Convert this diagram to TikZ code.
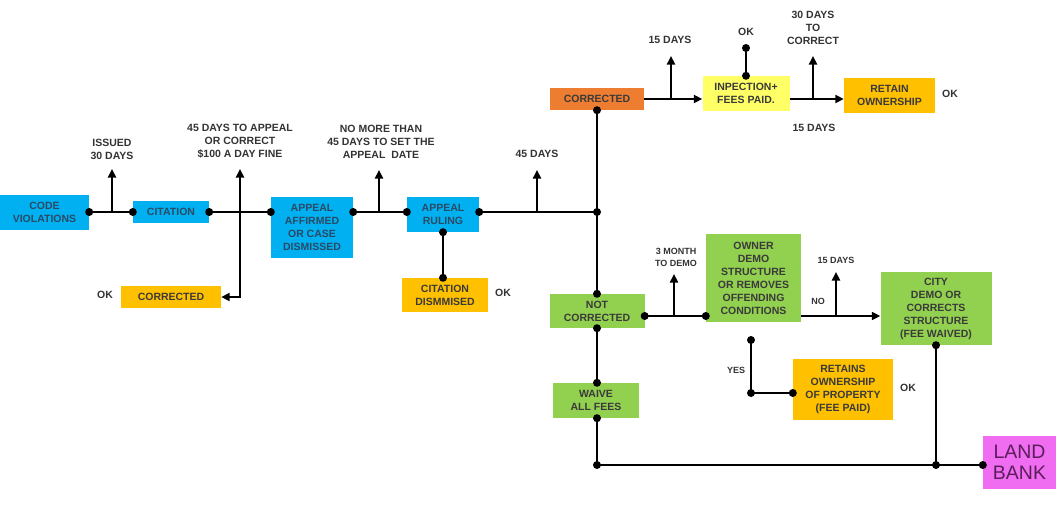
\documentclass[tikz,border=0pt]{standalone}
\usepackage{fontspec}
\newfontfamily\arial{Liberation Sans}
\usetikzlibrary{arrows.meta}

\definecolor{vioblue}{HTML}{00B0F0}
\definecolor{okorange}{HTML}{FFC000}
\definecolor{darkorange}{HTML}{ED7D31}
\definecolor{paidyellow}{HTML}{FFFF66}
\definecolor{demogreen}{HTML}{92D050}
\definecolor{bankpink}{HTML}{F06CF0}
\definecolor{boxtext}{HTML}{3A3A3A}
\definecolor{bluetext}{HTML}{2A4A66}
\definecolor{banktext}{HTML}{5A1E5A}
\definecolor{lbltext}{HTML}{333333}

\begin{document}
\begin{tikzpicture}[
    x=1pt, y=-1pt,
    box/.style={rectangle, inner sep=0pt, align=center, text=boxtext,
        font=\arial\bfseries\fontsize{10.5}{13}\selectfont},
    bluebox/.style={box, fill=vioblue, text=bluetext},
    okbox/.style={box, fill=okorange},
    greenbox/.style={box, fill=demogreen},
    lbl/.style={align=center, inner sep=0pt, text=lbltext,
        font=\arial\bfseries\fontsize{10.5}{13}\selectfont},
    smalllbl/.style={lbl, font=\arial\bfseries\fontsize{9}{12}\selectfont},
    link/.style={line width=2pt},
    arr/.style={link, -{Triangle[length=8.5pt,width=8pt]}}
]
\useasboundingbox (0,0) rectangle (1056,511);

% boxes along the main line
\node[bluebox, minimum width=89pt, minimum height=35pt] (viol) at (44.5,212) {CODE\\VIOLATIONS};
\node[bluebox, minimum width=76pt, minimum height=22pt] (cit) at (171,212) {CITATION};
\node[bluebox, minimum width=82pt, minimum height=61pt] (aff) at (312,227.5) {APPEAL\\AFFIRMED\\OR CASE\\DISMISSED};
\node[bluebox, minimum width=72pt, minimum height=35pt] (rul) at (443,214.5) {APPEAL\\RULING};
\node[okbox, minimum width=100pt, minimum height=22pt] (cor1) at (171,297) {CORRECTED};
\node[okbox, minimum width=86pt, minimum height=34pt] (cdis) at (445,295) {CITATION\\DISMMISED};

% upper branch
\node[box, fill=darkorange, minimum width=94pt, minimum height=22pt] (cor2) at (597,99) {CORRECTED};
\node[box, fill=paidyellow, minimum width=87pt, minimum height=35pt] (insp) at (746,93.5) {INPECTION+\\FEES PAID.};
\node[okbox, minimum width=91pt, minimum height=35pt] (own) at (889.5,95.5) {RETAIN\\OWNERSHIP};

% lower branch
\node[greenbox, minimum width=95pt, minimum height=34pt] (nc) at (597,311) {NOT\\CORRECTED};
\node[greenbox, minimum width=95pt, minimum height=88pt] (demo) at (753.5,278) {OWNER\\DEMO\\STRUCTURE\\OR REMOVES\\OFFENDING\\CONDITIONS};
\node[greenbox, minimum width=111pt, minimum height=73pt] (city) at (936,308.5) {CITY\\DEMO OR\\CORRECTS\\STRUCTURE\\(FEE WAIVED)};
\node[okbox, minimum width=100pt, minimum height=61pt] (keep) at (843,389.5) {RETAINS\\OWNERSHIP\\OF PROPERTY\\(FEE PAID)};
\node[greenbox, minimum width=86pt, minimum height=35pt] (waive) at (596,400.5) {WAIVE\\ALL FEES};
\node[box, fill=bankpink, text=banktext, minimum width=73pt, minimum height=53pt,
    font=\arial\fontsize{19.5}{21}\selectfont] (bank) at (1019.5,462.5) {LAND\\BANK};

% labels
\node[lbl] (l1) at (112,149) {ISSUED\\30 DAYS};
\node[lbl] (l2) at (240,141.5) {45 DAYS TO APPEAL\\OR CORRECT\\\$100 A DAY FINE};
\node[lbl] (l3) at (381,141.5) {NO MORE THAN\\45 DAYS TO SET THE\\APPEAL\ \ DATE};
\node[lbl] (l4) at (537,154) {45 DAYS};
\node[lbl] (ok1) at (105,295) {OK};
\node[lbl] (ok2) at (503,293) {OK};
\node[lbl] (l5) at (670,40) {15 DAYS};
\node[lbl] (ok3) at (746,32) {OK};
\node[lbl] (l6) at (813,28) {30 DAYS\\TO\\CORRECT};
\node[lbl] (l7) at (814,128) {15 DAYS};
\node[lbl] (ok4) at (950,94) {OK};
\node[smalllbl] (l8) at (676,257) {3 MONTH\\TO DEMO};
\node[smalllbl] (l9) at (836,260) {15 DAYS};
\node[smalllbl] (no) at (818,301) {NO};
\node[smalllbl] (yes) at (736,370) {YES};
\node[lbl] (ok5) at (908,388) {OK};

% junctions and arrow tips
\coordinate (row1) at (0,212);
\coordinate (row2) at (0,316);
\coordinate (row3) at (0,99);
\coordinate (j1) at (597,212);
\coordinate (a1) at (112,212);  \coordinate (t1) at (112,169);
\coordinate (a2) at (240,212);  \coordinate (t2) at (240,169);
\coordinate (a3) at (379,212);  \coordinate (t3) at (379,170);
\coordinate (a4) at (537,212);  \coordinate (t4) at (537,170);
\coordinate (a5) at (671,99);   \coordinate (t5) at (671,56);
\coordinate (a6) at (813,99);   \coordinate (t6) at (813,56);
\coordinate (a7) at (674,316);  \coordinate (t7) at (674,274);
\coordinate (a8) at (836,316);  \coordinate (t8) at (836,272);
\coordinate (okdot) at (746,48);
\coordinate (y1) at (751,340);
\coordinate (y2) at (751,393);
\coordinate (b1) at (597,465);
\coordinate (b2) at (936,465);

% main line
\draw[link] (viol.east) -- (cit.west);
\draw[link] (cit.east) -- (aff.west |- row1);
\draw[link] (aff.east |- row1) -- (rul.west |- row1);
\draw[link] (rul.east |- row1) -- (j1);
\draw[link] (cor2.south) -- (nc.north);
\draw[link] (rul.south) -- (rul.south |- cdis.north);
\draw[arr] (a1) -- (t1);
\draw[arr] (a2) -- (t2);
\draw[arr] (a2) |- (cor1.east);
\draw[arr] (a3) -- (t3);
\draw[arr] (a4) -- (t4);

% corrected
\draw[arr] (cor2.east) -- (insp.west |- row3);
\draw[arr] (insp.east |- row3) -- (own.west |- row3);
\draw[link] (insp.north) -- (okdot);
\draw[arr] (a5) -- (t5);
\draw[arr] (a6) -- (t6);

% not corrected
\draw[link] (nc.east |- row2) -- (demo.west |- row2);
\draw[arr] (demo.east |- row2) -- (city.west |- row2);
\draw[arr] (a7) -- (t7);
\draw[arr] (a8) -- (t8);
\draw[link] (y1) -- (y2) -- (keep.west |- y2);
\draw[link] (nc.south) -- (waive.north -| nc.south);
\draw[link] (waive.south -| b1) -- (b1) -- (bank.west |- b1);
\draw[link] (city.south) -- (b2);

% dots
\foreach \p in {viol.east, cit.west, cit.east, aff.west |- row1, aff.east |- row1,
        rul.west |- row1, rul.east |- row1, j1, rul.south, rul.south |- cdis.north,
        cor2.south, insp.north, okdot, nc.north, nc.east |- row2, demo.west |- row2,
        nc.south, waive.north -| nc.south, waive.south -| b1, b1, b2, bank.west |- b1,
        city.south, y1, y2, keep.west |- y2}
    \fill (\p) circle (4pt);

\end{tikzpicture}
\end{document}
